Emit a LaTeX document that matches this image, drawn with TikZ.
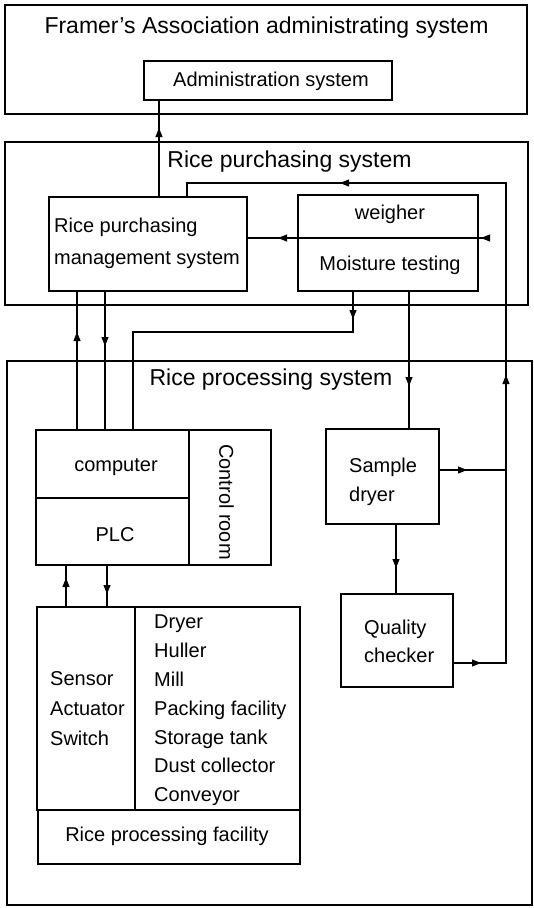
\documentclass[tikz,border=0pt]{standalone}
\usepackage{fontspec}
\setmainfont{Liberation Sans}
\usetikzlibrary{arrows.meta,decorations.markings}
\tikzset{
  box/.style={draw, line width=1.1pt, inner sep=0pt, outer sep=0pt},
  lbl/.style={inner sep=0pt, font=\fontsize{20}{23}\selectfont},
  ttl/.style={inner sep=0pt, font=\fontsize{23}{27}\selectfont},
  conn/.style={line width=1.1pt},
  arr/.style={postaction={decorate,decoration={markings,
      mark=at position #1 with {\arrow{Triangle[length=9pt,width=7pt]}}}}}
}
\begin{document}
\begin{tikzpicture}[x=1pt,y=-1pt]
\useasboundingbox (0,0) rectangle (534,908);
% outer systems
\node[box, minimum width=522pt, minimum height=109pt] (fa) at (266,59.5) {};
\node[ttl, anchor=base] (fatitle) at (266.5,33) {Framer’s Association administrating system};
\node[box, minimum width=248pt, minimum height=39pt] (admin) at (268,80.5) {};
\node[lbl, anchor=base] (admintxt) at (271,86) {Administration system};

\node[box, minimum width=523pt, minimum height=163pt] (rp) at (266.5,223.5) {};
\node[ttl, anchor=base] (rptitle) at (289.5,167) {Rice purchasing system};
\node[box, minimum width=198pt, minimum height=94pt] (rpms) at (148,244) {};
\node[lbl, anchor=west, align=left, font=\fontsize{20}{32}\selectfont] (rpmstxt) at (54,243) {Rice purchasing\\management system};
\node[box, minimum width=180pt, minimum height=43pt] (weigher) at (388,216.5) {};
\node[lbl, anchor=base] (weighertxt) at (390,219) {weigher};
\node[box, minimum width=180pt, minimum height=53pt] (moisture) at (388,264.5) {};
\node[lbl, anchor=base] (moisturetxt) at (390,270) {Moisture testing};

\node[box, minimum width=525pt, minimum height=544pt] (proc) at (269.5,633) {};
\node[ttl, anchor=base] (proctitle) at (271,385) {Rice processing system};
\node[box, minimum width=153pt, minimum height=68pt] (computer) at (112.5,464) {};
\node[lbl, anchor=base] (computertxt) at (116,471) {computer};
\node[box, minimum width=153pt, minimum height=67pt] (plc) at (112.5,531.5) {};
\node[lbl, anchor=base] (plctxt) at (115,541) {PLC};
\node[box, minimum width=82pt, minimum height=135pt] (control) at (230,497.5) {};
\node[lbl, rotate=-90] (controltxt) at (226.5,502) {Control room};

\node[box, minimum width=98pt, minimum height=203pt] (sensor) at (86,708.5) {};
\node[lbl, anchor=west, align=left, font=\fontsize{20}{30}\selectfont] (sensortxt) at (50,709) {Sensor\\Actuator\\Switch};
\node[box, minimum width=165pt, minimum height=203pt] (equip) at (217.5,708.5) {};
\node[lbl, anchor=west, align=left, font=\fontsize{20}{28.8}\selectfont] (equiptxt) at (154,710.5) {Dryer\\Huller\\Mill\\Packing facility\\Storage tank\\Dust collector\\Conveyor};
\node[box, minimum width=262pt, minimum height=54pt] (facility) at (169,837) {};
\node[lbl, anchor=base] (facilitytxt) at (167,841) {Rice processing facility};

\node[box, minimum width=113pt, minimum height=95pt] (sdryer) at (382.5,476.5) {};
\node[lbl, anchor=west, align=left, font=\fontsize{20}{29}\selectfont] (sdryertxt) at (349,481.5) {Sample\\dryer};
\node[box, minimum width=112pt, minimum height=93pt] (quality) at (397,640.5) {};
\node[lbl, anchor=west, align=left, font=\fontsize{20}{28}\selectfont] (qualitytxt) at (364,641) {Quality\\checker};

% connector coordinates
\coordinate (fbBot) at (506,663);
\coordinate (fbTop) at (506,183);
\coordinate (fbL) at (187,183);
\coordinate (wIn) at (490,238);
\coordinate (mBend) at (353,332);
\coordinate (cBend) at (133,332);

% connectors
\draw[conn, arr=69pt] (159,0 |- rpms.north) -- (159,0 |- admin.south);
\draw[conn, arr=28pt, arr=341pt, arr=699pt] (quality.east |- fbBot) -- (fbBot) -- (fbTop) -- (fbL) -- (fbL |- rpms.north);
\draw[conn, arr=28pt] (sdryer.east |- 0,470) -- (fbBot |- 0,470);
\draw[conn, arr=9pt, arr=212pt] (wIn) -- (rpms.east |- wIn);
\draw[conn, arr=98pt] (77,0 |- computer.north) -- (77,0 |- rpms.south);
\draw[conn, arr=55pt] (105,0 |- rpms.south) -- (105,0 |- computer.north);
\draw[conn, arr=28pt] (mBend |- moisture.south) -- (mBend) -- (cBend) -- (cBend |- computer.north);
\draw[conn, arr=95pt] (409,0 |- moisture.south) -- (409,0 |- sdryer.north);
\draw[conn, arr=29pt] (66,0 |- sensor.north) -- (66,0 |- plc.south);
\draw[conn, arr=29pt] (107,0 |- plc.south) -- (107,0 |- sensor.north);
\draw[conn, arr=44pt] (396,0 |- sdryer.south) -- (396,0 |- quality.north);
\end{tikzpicture}
\end{document}
